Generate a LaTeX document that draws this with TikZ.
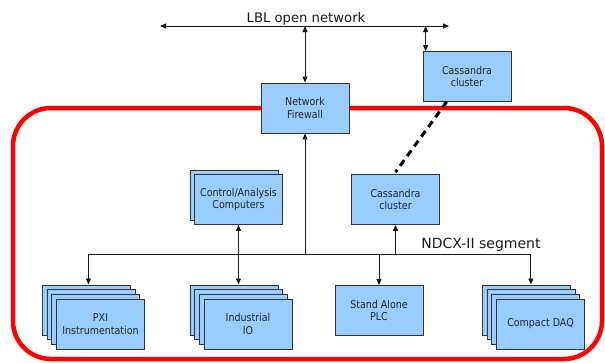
\documentclass[tikz,border=0pt]{standalone}
\usepackage{fontspec}
\setmainfont{DejaVu Sans}
\newfontfamily\boxfont{DejaVu Sans}[FakeStretch=0.88]
\usetikzlibrary{arrows.meta,calc}
\definecolor{boxblue}{HTML}{99CCFF}
\definecolor{frame}{HTML}{FF0000}
\begin{document}
\begin{tikzpicture}[x=1pt,y=-1pt,
  box/.style={draw=black!80, line width=0.8pt, fill=boxblue, minimum width=88pt,
    minimum height=50pt, inner sep=0pt, align=center,
    font=\boxfont\fontsize{10.8}{12.9}\selectfont, text=black!85},
  conn/.style={line width=0.9pt, draw=black!90},
  onetip/.style={-{Triangle[length=6pt,width=5pt]}},
  twotips/.style={{Triangle[length=6pt,width=5pt]}-{Triangle[length=6pt,width=5pt]}},
  label/.style={anchor=base, text=black!90, inner sep=0pt}]
\useasboundingbox (0,0) rectangle (605,362);
% segment frame
\draw[frame, line width=4.5pt, rounded corners=38pt] (13,108) rectangle (602,359);
% boxes
\node[box] (fw) at (305,108) {Network\\Firewall};
\node[box] (castop) at (467,76.5) {Cassandra\\cluster};
\node[box] (cas) at (395.5,199.5) {Cassandra\\cluster};
\node[box] (ctrlb) at (234,195.5) {};
\node[box] (ctrl) at (238.5,199.5) {Control/Analysis\\Computers};
\node[box] (pxia) at (86.4,309.9) {};
\node[box] (pxib) at (91.1,314.6) {};
\node[box] (pxic) at (95.8,319.3) {};
\node[box] (pxi) at (100.5,324) {PXI\\Instrumentation};
\node[box] (inda) at (233.9,309.9) {};
\node[box] (indb) at (238.6,314.6) {};
\node[box] (indc) at (243.3,319.3) {};
\node[box] (ind) at (248,324) {Industrial\\IO};
\node[box] (plc) at (379,310.5) {Stand Alone\\PLC};
\node[box] (daqa) at (526.4,309.9) {};
\node[box] (daqb) at (531.1,314.6) {};
\node[box] (daqc) at (535.8,319.3) {};
\node[box] (daq) at (540.5,324) {Compact DAQ};
% labels
\node[label, font=\fontsize{13.2}{15}\selectfont] (lbl) at (306,22) {LBL open network};
\node[label, font=\fontsize{14}{16}\selectfont] (seg) at (481,248) {NDCX-II segment};
% coordinates
\coordinate (lblL) at (160,26);
\coordinate (lblR) at (449,26);
\coordinate (bus) at (0,254);
\coordinate (cup) at ($(castop.north west)+(3,0)$);
\coordinate (pxiin) at ($(pxia.north)+(2,0)$);
\coordinate (daqin) at ($(daqa.north)+(4.5,0)$);
% connectors
\draw[conn, twotips] (lblL) -- (lblR);
\draw[conn, twotips] (fw.north |- lblL) -- (fw.north);
\draw[conn, twotips] (cup |- lblL) -- (cup);
\draw[line width=3pt, dash pattern=on 7pt off 5pt]
  ($(castop.south west)!0.27!(castop.south east)$) -- ($(cas.north)+(0,-2)$);
\draw[conn] (pxiin |- bus) -- (daqin |- bus);
\draw[conn, onetip] (fw.south |- bus) -- (fw.south);
\draw[conn, onetip] (cas.south |- bus) -- (cas.south);
\draw[conn, onetip] (ctrl.south |- bus) -- (ctrl.south);
\draw[conn, onetip] (ctrl.south |- bus) -- (inda.north -| ctrl.south);
\draw[conn, onetip] (pxiin |- bus) -- (pxiin);
\draw[conn, onetip] (plc.north |- bus) -- (plc.north);
\draw[conn, onetip] (daqin |- bus) -- (daqin);
\end{tikzpicture}
\end{document}
